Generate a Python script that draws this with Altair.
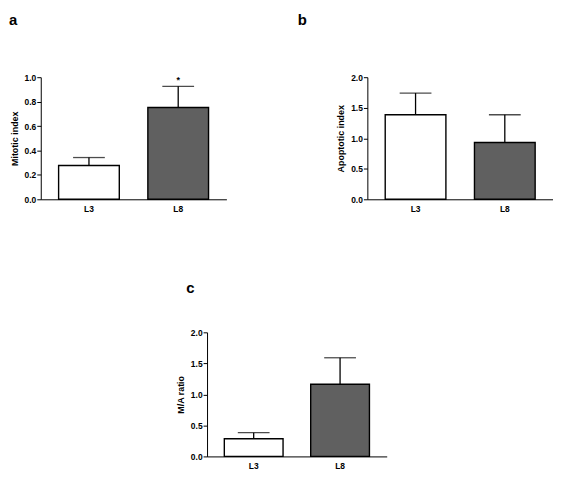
import altair as alt
import pandas as pd

groups = ['L3', 'L8']
fills = ['#ffffff', '#606060']

mitotic_mean = [0.277, 0.752]
mitotic_top = [0.342, 0.925]

apoptotic_mean = [1.385, 0.93]
apoptotic_top = [1.74, 1.385]

ratio_mean = [0.285, 1.163]
ratio_top = [0.382, 1.59]

stars = ['', '*']

FONT = 'Liberation Sans'


def panel(mean, top, ytitle, ymax, ticks, label, dx, offset, w, h, star=False):
    df = pd.DataFrame({'group': groups, 'mean': mean, 'top': top,
                       'fill': fills, 'star': stars if star else ['', '']})
    base = alt.Chart(df).encode(
        x=alt.X('group:N', title=None, sort=groups,
                scale=alt.Scale(paddingInner=0.32, paddingOuter=0.2),
                axis=alt.Axis(labelAngle=0, ticks=False, labelPadding=5)),
        y=alt.Y('mean:Q', title=ytitle,
                scale=alt.Scale(domain=[0, ymax], nice=False),
                axis=alt.Axis(values=ticks, tickCount=len(ticks), format='.1f',
                              tickSize=4, labelOverlap=False, labelPadding=1,
                              titlePadding=5)),
    )
    bars = base.mark_bar(stroke='black', strokeWidth=1.4).encode(
        fill=alt.Fill('fill:N', scale=None))
    err = base.mark_rule(color='black', strokeWidth=1.3).encode(y2='top:Q')
    cap = base.mark_tick(color='black', size=32, thickness=1.3,
                         orient='horizontal').encode(y='top:Q')
    layers = [bars, err, cap]
    if star:
        layers.append(base.mark_text(font=FONT, fontSize=9, fontWeight='bold',
                                     dy=-1, baseline='bottom').encode(
            y='top:Q', text='star:N'))
    return alt.layer(*layers).properties(
        width=w, height=h,
        title=alt.TitleParams(label, anchor='start', frame='group', dx=dx,
                              fontSize=15, fontWeight='bold', font=FONT,
                              baseline='bottom', offset=offset))


a = panel(mitotic_mean, mitotic_top, 'Mitotic index', 1.0,
          [0, 0.2, 0.4, 0.6, 0.8, 1.0], 'a', -32, 31, 187, 123, star=True)
b = panel(apoptotic_mean, apoptotic_top, 'Apoptotic index', 2.0,
          [0, 0.5, 1.0, 1.5, 2.0], 'b', -70, 31, 187, 123)
c = panel(ratio_mean, ratio_top, 'M/A ratio', 2.0,
          [0, 0.5, 1.0, 1.5, 2.0], 'c', -21, 18, 181, 125)

chart = (
    alt.vconcat(alt.hconcat(a, b, spacing=72), c, spacing=68, center=True)
    .properties(padding={'left': 1, 'top': 3, 'right': 0, 'bottom': 0})
    .configure_view(stroke=None)
    .configure_axis(grid=False, domainColor='black', tickColor='black',
                    labelColor='black', titleColor='black', labelFont=FONT,
                    titleFont=FONT, labelFontSize=8.5, titleFontSize=9,
                    labelFontWeight='bold', titleFontWeight='bold',
                    domainWidth=1, tickWidth=1)
)

chart.save('out.html', embed_options={'renderer': 'svg', 'actions': False})
